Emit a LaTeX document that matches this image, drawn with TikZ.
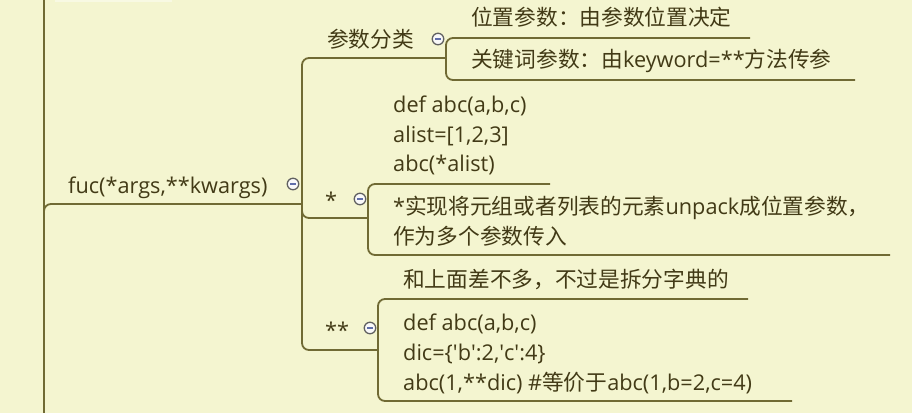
\documentclass[tikz,border=0pt]{standalone}
\usepackage{fontspec}
\setmainfont{Open Sans}
\newfontfamily\cjk{Noto Sans CJK SC}
\newcommand{\zh}[1]{{\cjk #1}}
\newcommand{\sq}{\textquotesingle}
\definecolor{bgc}{RGB}{244,245,208}
\definecolor{linec}{RGB}{112,106,52}
\definecolor{inkc}{RGB}{66,58,22}
\definecolor{minusc}{RGB}{96,110,170}
\tikzset{
  txt/.style={anchor=base west, inner sep=0pt, font=\fontsize{21.7}{30}\selectfont, text=inkc},
  branch/.style={draw=linec, line width=1.8pt, rounded corners=7pt},
  toggle/.style={circle, draw=gray!75!black, fill=white!95!gray, line width=1.3pt, minimum size=11.5pt, inner sep=0pt,
    path picture={\draw[minusc, line width=1.3pt] ([xshift=-2.7pt]path picture bounding box.center) -- ([xshift=2.7pt]path picture bounding box.center);}}
}
\begin{document}
\begin{tikzpicture}[x=1pt,y=-1pt]
\fill[bgc] (0,0) rectangle (912,413);
\useasboundingbox (0,0) rectangle (912,413);
\fill[white!40!bgc] (55,0) rectangle (172,1.5);

% junction and end coordinates
\coordinate (top) at (44,0);
\coordinate (bot) at (44,413);
\coordinate (rootin) at (44,214);
\coordinate (rootcorner) at (44,204);
\coordinate (fucend) at (302,204);
\coordinate (j1) at (446,58);
\coordinate (j2) at (368,218);
\coordinate (j3) at (378,350);
\coordinate (e1) at (750,38);
\coordinate (e2) at (855,80);
\coordinate (e3) at (550,184);
\coordinate (e4) at (890,255);
\coordinate (e5) at (748,299);
\coordinate (e6) at (792,401);

% main vertical
\draw[draw=linec, line width=2pt] (top) -- (bot);
% root branch
\draw[branch] (rootin) -- (rootcorner) -- (fucend);
% second level
\draw[branch] (fucend) |- (j1);
\draw[branch] (fucend) |- (j2);
\draw[branch] (fucend) |- (j3);
% third level
\draw[branch] (j1) |- (e1);
\draw[branch] (j1) |- (e2);
\draw[branch] (j2) |- (e3);
\draw[branch] (j2) |- (e4);
\draw[branch] (j3) |- (e5);
\draw[branch] (j3) |- (e6);

% texts
\node[txt] (fuc) at (68,193) {fuc(*args,**kwargs)};
\node[txt] (cat) at (327,47) {\zh{参数分类}};
\node[txt] (pos) at (471,25) {\zh{位置参数：由参数位置决定}};
\node[txt] (kw) at (471,67) {\zh{关键词参数：由}keyword=**\zh{方法传参}};
\node[txt] (star) at (325,208) {*};
\node[txt] (c1l1) at (393,112) {def abc(a,b,c)};
\node[txt] (c1l2) at (393,142) {alist=[1,2,3]};
\node[txt] (c1l3) at (393,171) {abc(*alist)};
\node[txt] (s1l1) at (393,214) {*\zh{实现将元组或者列表的元素}unpack\zh{成位置参数，}};
\node[txt] (s1l2) at (393,244) {\zh{作为多个参数传入}};
\node[txt] (dstar) at (325,338) {**};
\node[txt] (d0) at (403,287) {\zh{和上面差不多，不过是拆分字典的}};
\node[txt] (d1) at (403,330) {def abc(a,b,c)};
\node[txt] (d2) at (403,360) {dic=\{\sq b\sq:2,\sq c\sq:4\}};
\node[txt] (d3) at (403,390) {abc(1,**dic) \#\zh{等价于}abc(1,b=2,c=4)};

% toggles
\node[toggle] (t0) at (293,184) {};
\node[toggle] (t1) at (438,39) {};
\node[toggle] (t2) at (360,199) {};
\node[toggle] (t3) at (370,328) {};
\end{tikzpicture}
\end{document}
